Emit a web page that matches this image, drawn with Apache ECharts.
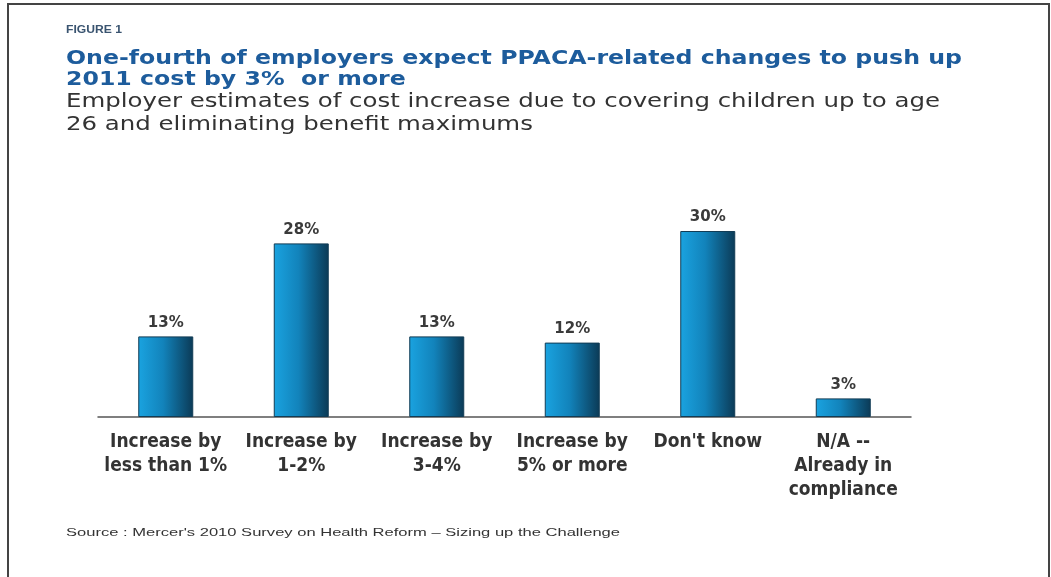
<!DOCTYPE html>
<html>
<head>
<meta charset="utf-8">
<script src="https://cdn.jsdelivr.net/npm/echarts@6/dist/echarts.min.js"></script>
<style>
  html, body { margin: 0; padding: 0; background: #fff; }
  #frame { position: absolute; left: 7px; top: 3px; width: 1043px; height: 580px; border: 2px solid #444; border-bottom: none; box-sizing: border-box; }
  #chart { position: absolute; left: 0; top: 0; width: 1051px; height: 577px; }
</style>
</head>
<body>
<div id="chart"></div>
<div id="frame"></div>
<script>
// Employer estimates of 2011 cost increase (share of employers, %)
const categories = [
  'Increase by\nless than 1%',
  'Increase by\n1-2%',
  'Increase by\n3-4%',
  'Increase by\n5% or more',
  "Don't know",
  'N/A --\nAlready in\ncompliance'
];
const shares = [13, 28, 13, 12, 30, 3];

const figureLabel = 'FIGURE 1';
const headlineLines = [
  'One-fourth of employers expect PPACA-related changes to push up',
  '2011 cost by 3%  or more'
];
const subheadLines = [
  'Employer estimates of cost increase due to covering children up to age',
  '26 and eliminating benefit maximums'
];
const sourceNote = "Source : Mercer's 2010 Survey on Health Reform \u2013 Sizing up the Challenge";

// Horizontal stretch so a line of text spans a given width (wide-tracked type)
const measureCtx = document.createElement('canvas').getContext('2d');
function stretchFor(text, font, targetWidth) {
  measureCtx.font = font;
  return targetWidth / measureCtx.measureText(text).width;
}

function textBlock(lines, font, color, x, yFirst, lineStep, targetWidth) {
  const sx = stretchFor(lines[0], font, targetWidth);
  return lines.map((t, i) => ({
    type: 'text',
    x: x,
    y: yFirst + i * lineStep,
    scaleX: sx,
    silent: true,
    style: { text: t, font: font, fill: color, textVerticalAlign: 'middle', verticalAlign: 'middle' }
  }));
}

const FONT_FIG = 'bold 10px "Liberation Sans"';
const FONT_HEAD = 'bold 19px "DejaVu Sans"';
const FONT_SUB = '20px "DejaVu Sans"';
const FONT_SRC = '11px "Liberation Sans"';

const graphics = []
  .concat(textBlock([figureLabel], FONT_FIG, '#3a5470', 66, 30, 0, 56))
  .concat(textBlock(headlineLines, FONT_HEAD, '#1d5c9c', 66, 59, 21, 896))
  .concat(textBlock(subheadLines, FONT_SUB, '#333333', 66, 102, 23, 874))
  .concat(textBlock([sourceNote], FONT_SRC, '#333333', 66, 533, 0, 554));

const chart = echarts.init(document.getElementById('chart'));

chart.setOption({
  backgroundColor: '#ffffff',
  animation: false,
  graphic: graphics,
  grid: { left: 98, right: 140, top: 200, height: 217 },
  xAxis: {
    type: 'category',
    data: categories,
    axisLine: { lineStyle: { color: '#555555', width: 1.5 } },
    axisTick: { show: false },
    axisLabel: {
      interval: 0, margin: 13,
      fontFamily: '"DejaVu Sans Condensed", "Liberation Sans"',
      fontSize: 19, fontWeight: 'bold', color: '#333333', lineHeight: 24
    }
  },
  yAxis: {
    type: 'value', min: 0, max: 35,
    show: false,
    splitLine: { show: false }
  },
  series: [{
    type: 'bar',
    data: shares,
    barWidth: 55,
    itemStyle: {
      borderColor: '#123c55', borderWidth: 1,
      color: new echarts.graphic.LinearGradient(0, 0, 1, 0, [
        { offset: 0, color: '#1aa3e0' },
        { offset: 0.45, color: '#1283bb' },
        { offset: 1, color: '#0b3a56' }
      ])
    },
    label: {
      show: true, position: 'top', distance: 6,
      formatter: '{c}%',
      fontFamily: 'DejaVu Sans', fontSize: 15, fontWeight: 'bold', color: '#3a3a3a'
    }
  }]
});
</script>
</body>
</html>
